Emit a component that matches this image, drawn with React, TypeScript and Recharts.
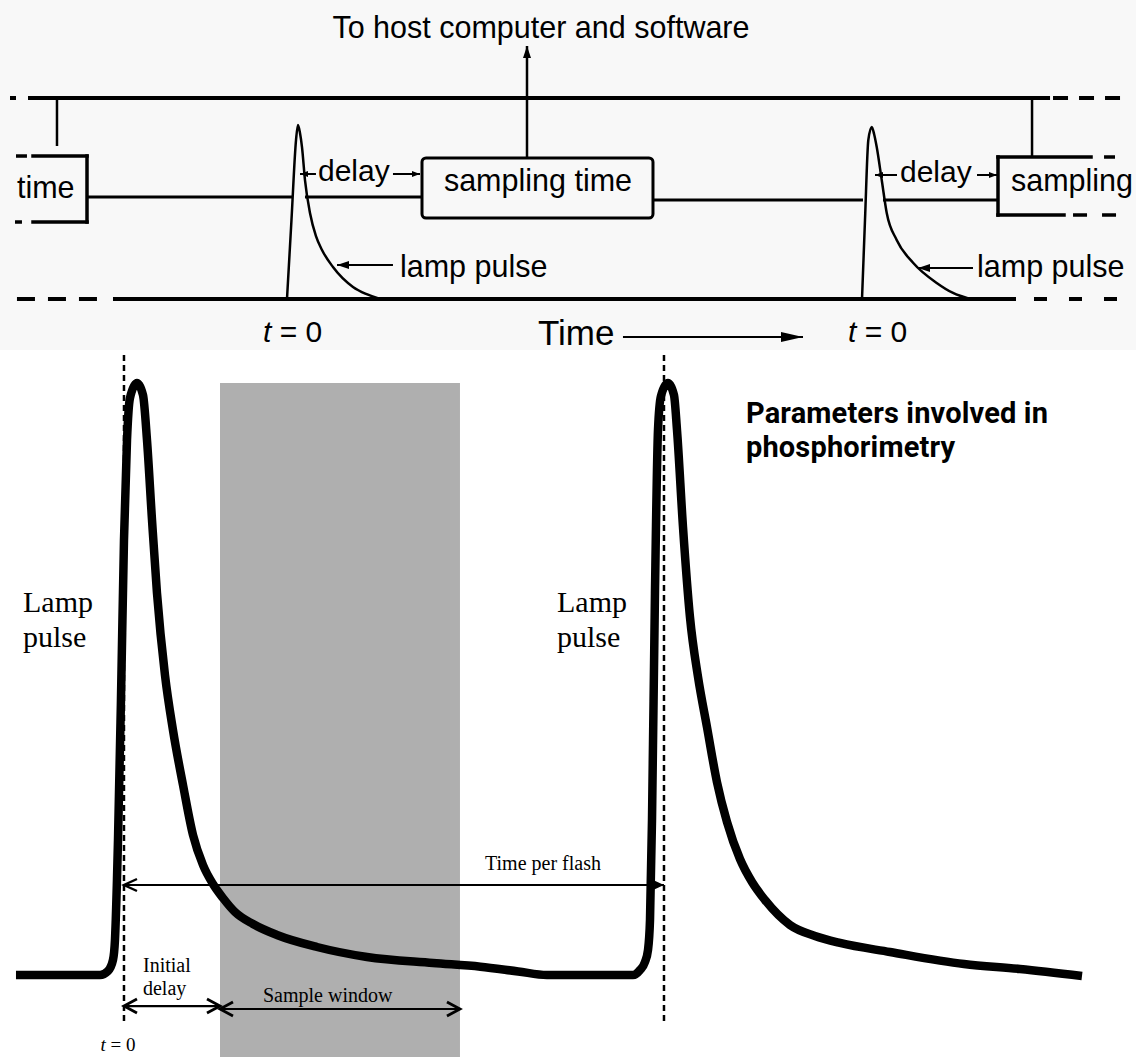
import React from 'react';
import { LineChart, Line, XAxis, YAxis, ReferenceLine, ReferenceArea, ReferenceDot } from 'recharts';

// upper sketch: time in % of one lamp period (t = 0 at the first pulse), level 0 = bottom rail, 100 = top bus
const pulseOne = [
    { t: 0, v: 0 }, { t: 0.78, v: 39.3 }, { t: 1.57, v: 79.1 }, { t: 1.91, v: 86.6 },
    { t: 2.26, v: 82.6 }, { t: 2.61, v: 75.6 }, { t: 3.13, v: 59.2 }, { t: 4.0, v: 42.8 },
    { t: 5.04, v: 31.3 }, { t: 6.09, v: 24.4 }, { t: 8.0, v: 15.9 }, { t: 11.48, v: 6.0 },
    { t: 13.74, v: 2.5 }, { t: 16.17, v: 0 }
];

const pulseTwo = [
    { t: 100, v: 0 }, { t: 100.52, v: 39.3 }, { t: 101.1, v: 79.1 }, { t: 101.7, v: 85.6 },
    { t: 102.1, v: 82.1 }, { t: 102.56, v: 75.6 }, { t: 103.43, v: 59.2 }, { t: 104.3, v: 42.8 },
    { t: 106.03, v: 29.4 }, { t: 108.92, v: 17.9 }, { t: 112.99, v: 8.0 }, { t: 115.83, v: 3.0 },
    { t: 118.78, v: 0 }
];

// lower panel: lamp output, 0 = dark baseline, 100 = flash peak; time in % of the flash period
const lampTrace = [
    { t: -20, v: 0 }, { t: -4.44, v: 0 }, { t: -2.96, v: 0.68 }, { t: -2.04, v: 2.53 },
    { t: -1.67, v: 5.91 }, { t: -1.3, v: 16.05 }, { t: -1.11, v: 22.8 }, { t: -0.56, v: 46.45 },
    { t: 0, v: 73.48 }, { t: 0.56, v: 90.37 }, { t: 1.11, v: 97.47 }, { t: 2.41, v: 100 },
    { t: 3.52, v: 97.97 }, { t: 4.26, v: 90.37 }, { t: 5.19, v: 76.86 }, { t: 6.11, v: 64.53 },
    { t: 7.59, v: 50.68 }, { t: 9.07, v: 41.39 }, { t: 10.93, v: 32.09 }, { t: 12.78, v: 23.65 },
    { t: 14.63, v: 18.58 }, { t: 16.48, v: 15.37 }, { t: 18.33, v: 13.01 }, { t: 20.56, v: 10.64 },
    { t: 23.89, v: 8.61 }, { t: 28.33, v: 6.76 }, { t: 35.74, v: 4.73 }, { t: 45.0, v: 3.04 },
    { t: 57.22, v: 2.03 }, { t: 66.0, v: 1.4 }, { t: 73.0, v: 0.6 }, { t: 78.33, v: 0 },
    { t: 94.26, v: 0 }, { t: 95.56, v: 0.84 }, { t: 96.48, v: 2.2 },
    { t: 97.04, v: 4.22 }, { t: 97.41, v: 9.29 }, { t: 97.78, v: 26.18 }, { t: 98.33, v: 64.53 },
    { t: 98.89, v: 92.06 }, { t: 99.44, v: 97.8 }, { t: 100.74, v: 100 }, { t: 101.85, v: 97.97 },
    { t: 102.41, v: 92.06 }, { t: 103.52, v: 75.68 }, { t: 104.81, v: 60.47 }, { t: 106.3, v: 50.34 },
    { t: 107.96, v: 41.89 }, { t: 109.81, v: 32.6 }, { t: 111.67, v: 25.84 }, { t: 114.07, v: 19.59 },
    { t: 116.3, v: 15.71 }, { t: 118.7, v: 12.67 }, { t: 123.33, v: 8.45 }, { t: 127.96, v: 6.59 },
    { t: 132.59, v: 5.41 }, { t: 141.85, v: 3.89 }, { t: 155.56, v: 1.86 },
    { t: 165.93, v: 1.01 }, { t: 177.41, v: -0.17 }
];

const flashPeriod = 100;
const initialDelay = 17.78;
const windowEnd = 62.22;

const hostLabel = 'To host computer and software';
const boxLabels = ['time', 'sampling time', 'sampling'];
const titleLines = ['Parameters involved in', 'phosphorimetry'];

const SANS = "'Liberation Sans', Arial, sans-serif";
const SERIF = "'Liberation Serif', 'Times New Roman', serif";
const BOLD = "Roboto, 'Liberation Sans', sans-serif";

type Head = 'none' | 'open' | 'solid';

// ReferenceLine shape: a line with optional arrow heads at either end
const arrow = (start: Head, end: Head, w = 2, len = 12, half = 4) => (p: any) => {
    const { x1, y1, x2, y2 } = p;
    const a = Math.atan2(y2 - y1, x2 - x1);
    const head = (x: number, y: number, ang: number, kind: Head) => {
        if (kind === 'none') return null;
        const bx = x - len * Math.cos(ang);
        const by = y - len * Math.sin(ang);
        const px = -Math.sin(ang) * half;
        const py = Math.cos(ang) * half;
        if (kind === 'solid') {
            return <polygon points={`${x},${y} ${bx + px},${by + py} ${bx - px},${by - py}`} fill="#000" />;
        }
        return (
            <polyline points={`${bx + px},${by + py} ${x},${y} ${bx - px},${by - py}`}
                fill="none" stroke="#000" strokeWidth={w + 0.6} />
        );
    };
    return (
        <g>
            <line x1={x1} y1={y1} x2={x2} y2={y2} stroke="#000" strokeWidth={w} />
            {head(x2, y2, a, end)}
            {head(x1, y1, a + Math.PI, start)}
        </g>
    );
};

const seg = (key: string, x1: number, y1: number, x2: number, y2: number, w: number, dash?: string, cap = 'butt', shape?: any) => (
    <ReferenceLine
        key={key}
        segment={[{ x: x1, y: y1 }, { x: x2, y: y2 }]}
        stroke="#000"
        strokeWidth={w}
        strokeDasharray={dash}
        strokeLinecap={cap as any}
        ifOverflow="visible"
        shape={shape}
    />
);

const note = (key: string, x: number, y: number, body: React.ReactNode, font: string, size: number,
    anchor: 'start' | 'middle' = 'start', weight: number | string = 'normal', spacing = 0) => (
    <ReferenceDot
        key={key}
        x={x}
        y={y}
        r={0}
        fill="none"
        stroke="none"
        ifOverflow="visible"
        label={(p: any) => {
            const vb = p.viewBox || p;
            return (
                <text x={vb.x} y={vb.y} fontFamily={font} fontSize={size} fontWeight={weight}
                    textAnchor={anchor} letterSpacing={spacing} fill="#000">
                    {body}
                </text>
            );
        }}
    />
);

const tZero = (
    <>
        <tspan fontStyle="italic">t</tspan> = 0
    </>
);

const noMargin = { top: 0, right: 0, bottom: 0, left: 0 };

const TimingSketch = () => (
    <LineChart width={1136} height={362} margin={noMargin} style={{ overflow: 'visible' }}>
        <XAxis type="number" dataKey="t" domain={[-49.91, 147.65]} allowDataOverflow hide />
        <YAxis type="number" domain={[-31.34, 148.76]} allowDataOverflow hide />

        {/* top bus and bottom rail */}
        {seg('bus-a', -48.17, 100, -47.13, 100, 4)}
        {seg('bus-b', -45.04, 100, 132.7, 100, 4)}
        {seg('bus-c', 133.22, 100, 145.04, 100, 4, '15 11')}
        {seg('rail-a', -46.96, 0, -32.87, 0, 4, '18 13')}
        {seg('rail-b', -30.26, 0, 126.78, 0, 4)}
        {seg('rail-c', 129.91, 0, 144.35, 0, 4, '13 22')}

        {/* middle timing line */}
        {seg('mid-a', -34.78, 50.75, 0.87, 50.75, 3)}
        {seg('mid-b', 3.13, 50.75, 23.48, 50.75, 3)}
        {seg('mid-c', 63.65, 49.25, 100.17, 49.25, 3)}
        {seg('mid-d', 103.65, 49.25, 123.65, 49.25, 3)}

        {/* connectors */}
        {seg('con-a', -40, 100, -40, 76.12, 2.5)}
        {seg('con-b', 129.57, 100, 129.57, 70.65, 2.5)}

        {/* left open box */}
        {seg('tb-r', -34.78, 71.14, -34.78, 38.31, 3.5, undefined, 'square')}
        {seg('tb-t', -44.17, 71.14, -34.78, 71.14, 3.5, undefined, 'square')}
        {seg('tb-td', -47.13, 71.14, -45.22, 71.14, 3.5)}
        {seg('tb-b', -44.17, 38.31, -34.78, 38.31, 3.5, undefined, 'square')}
        {seg('tb-bd', -47.3, 38.31, -46.09, 38.31, 3.5)}

        {/* sampling time box */}
        <ReferenceArea x1={23.48} x2={63.65} y1={40.3} y2={70.15} fill="none" stroke="#000"
            strokeWidth={3} radius={4} ifOverflow="visible" />

        {/* right open box */}
        {seg('sb-l', 123.65, 70.65, 123.65, 41.79, 3.5, undefined, 'square')}
        {seg('sb-t', 123.65, 70.65, 139.83, 70.65, 3.5, undefined, 'square')}
        {seg('sb-td', 142.09, 70.65, 144.0, 70.65, 3.5)}
        {seg('sb-b', 123.65, 41.79, 135.13, 41.79, 3.5, undefined, 'square')}
        {seg('sb-bd', 136.7, 41.79, 144.35, 41.79, 3.5, '14 15')}

        {/* arrows */}
        {seg('host', 41.74, 70.15, 41.74, 125.87, 2.5, undefined, 'butt', arrow('none', 'solid', 2.5, 12, 4))}
        {seg('dl-a', 5.04, 62.19, 2.26, 62.19, 2, undefined, 'butt', arrow('none', 'solid', 2, 8, 3))}
        {seg('dl-b', 18.43, 62.19, 23.13, 62.19, 2, undefined, 'butt', arrow('none', 'solid', 2, 8, 3))}
        {seg('dl-c', 106.09, 61.69, 102.26, 61.69, 2, undefined, 'butt', arrow('none', 'solid', 2, 8, 3))}
        {seg('dl-d', 120.0, 61.69, 123.48, 61.69, 2, undefined, 'butt', arrow('none', 'solid', 2, 8, 3))}
        {seg('lp-a', 18.43, 16.92, 8.7, 16.92, 2, undefined, 'butt', arrow('none', 'solid', 2, 12, 4))}
        {seg('lp-b', 119.3, 15.42, 109.74, 15.42, 2, undefined, 'butt', arrow('none', 'solid', 2, 12, 4))}
        {seg('time', 58.43, -18.91, 89.74, -18.91, 2, undefined, 'butt', arrow('none', 'solid', 2, 22, 5))}

        <Line data={pulseOne} dataKey="v" type="monotone" dot={false} activeDot={false} stroke="#000"
            strokeWidth={2.5} isAnimationActive={false} />
        <Line data={pulseTwo} dataKey="v" type="monotone" dot={false} activeDot={false} stroke="#000"
            strokeWidth={2.5} isAnimationActive={false} />

        {note('host-l', 44.17, 129.85, hostLabel, SANS, 30.5, 'middle')}
        {note('box-a', -46.96, 50.25, boxLabels[0], SANS, 30.5)}
        {note('box-b', 43.65, 53.73, boxLabels[1], SANS, 30.5, 'middle')}
        {note('box-c', 125.91, 53.73, boxLabels[2], SANS, 30.5)}
        {note('delay-a', 5.39, 58.86, 'delay', SANS, 30)}
        {note('delay-b', 106.61, 58.36, 'delay', SANS, 30)}
        {note('lamp-a', 19.65, 10.95, 'lamp pulse', SANS, 30.5)}
        {note('lamp-b', 120.0, 10.95, 'lamp pulse', SANS, 30.5)}
        {note('t0-a', -4.17, -21.39, tZero, SANS, 30)}
        {note('t0-b', 97.57, -21.39, tZero, SANS, 30)}
        {note('axis', 43.65, -22.89, 'Time', SANS, 35)}
    </LineChart>
);

const PulsePanel = () => (
    <LineChart width={1136} height={707} margin={noMargin}>
        <XAxis type="number" dataKey="t" domain={[-22.96, 187.41]} allowDataOverflow hide />
        <YAxis type="number" domain={[-13.85, 105.57]} allowDataOverflow hide />

        <ReferenceArea x1={initialDelay} x2={windowEnd} y1={-13.85} y2={100} fill="#afafaf"
            fillOpacity={1} stroke="none" ifOverflow="visible" />

        {seg('t0-line', 0, 104.73, 0, -7.94, 2.5, '6 4')}
        {seg('t100-line', flashPeriod, 104.73, flashPeriod, -7.94, 2.5, '6 4')}

        <Line data={lampTrace} dataKey="v" type="monotone" dot={false} activeDot={false} stroke="#000"
            strokeWidth={8.5} strokeLinejoin="round" isAnimationActive={false} />

        {seg('per-flash', 0, 15.2, flashPeriod, 15.2, 1.8, undefined, 'butt', arrow('open', 'solid', 1.8, 13, 6))}
        {seg('init-delay', 0, -5.24, initialDelay, -5.24, 2.2, undefined, 'butt', arrow('open', 'open', 2.2, 13, 7))}
        {seg('window', initialDelay, -5.74, windowEnd, -5.74, 2.2, undefined, 'butt', arrow('open', 'open', 2.2, 13, 7))}

        {note('lamp-a1', -18.7, 61.32, 'Lamp', SERIF, 30)}
        {note('lamp-a2', -18.7, 55.41, 'pulse', SERIF, 30)}
        {note('lamp-b1', 80.19, 61.32, 'Lamp', SERIF, 30)}
        {note('lamp-b2', 80.19, 55.41, 'pulse', SERIF, 30)}
        {note('per-flash-l', 77.59, 17.74, 'Time per flash', SERIF, 20, 'middle')}
        {note('init-1', 3.52, 0.51, 'Initial', SERIF, 20)}
        {note('init-2', 3.52, -3.38, 'delay', SERIF, 20)}
        {note('window-l', 25.74, -4.56, 'Sample window', SERIF, 20)}
        {note('t0-bottom', -1.11, -12.9, tZero, SERIF, 19, 'middle')}
        {note('title-1', 115.19, 93.24, titleLines[0], BOLD, 29, 'start', 700, 0.15)}
        {note('title-2', 115.19, 87.5, titleLines[1], BOLD, 29, 'start', 700, 0.15)}
    </LineChart>
);

export default function App() {
    return (
        <div style={{ position: 'absolute', left: 0, top: 0, width: 1136, height: 1057, background: '#fff', overflow: 'hidden' }}>
            <div style={{ position: 'absolute', left: 0, top: 0, width: 1136, height: 350, background: '#f8f8f8', overflow: 'visible' }}>
                <TimingSketch />
            </div>
            <div style={{ position: 'absolute', left: 0, top: 350, width: 1136, height: 707 }}>
                <PulsePanel />
            </div>
        </div>
    );
}
